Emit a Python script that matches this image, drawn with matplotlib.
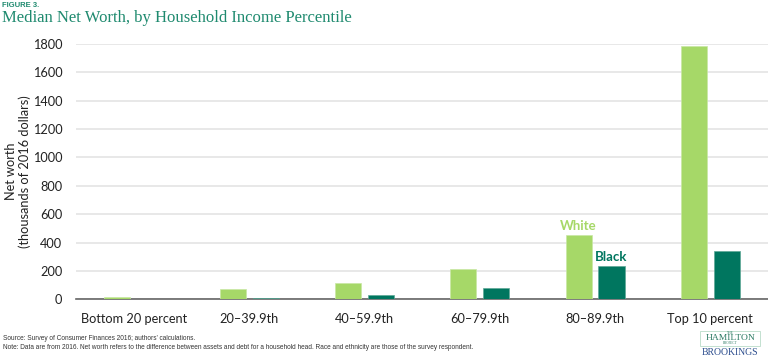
import matplotlib.pyplot as plt
import numpy as np
from matplotlib.patches import Rectangle

# data (thousands of 2016 dollars)
categories = ['Bottom 20 percent', '20\u201339.9th', '40\u201359.9th',
              '60\u201379.9th', '80\u201389.9th', 'Top 10 percent']
white = [14, 72, 113, 212, 453, 1787]
black = [2, 12, 28, 78, 237, 341]
y_ticks = [0, 200, 400, 600, 800, 1000, 1200, 1400, 1600, 1800]

light_green = '#a6d868'
dark_teal = '#00765f'
title_teal = '#1f8a6f'

plt.rcParams['font.family'] = ['Lato', 'DejaVu Sans']

fig = plt.figure(figsize=(7.68, 3.57), dpi=100)
ax = fig.add_axes([0.099, 0.1616, 0.901, 0.7152])

x = np.arange(len(categories))
w = 0.2255
off = 0.143
ax.bar(x - off, white, width=w, color=light_green, edgecolor='#c8e8a4', linewidth=0.5, zorder=5)
ax.bar(x + off, black, width=w, color=dark_teal, edgecolor='#5fa896', linewidth=0.5, zorder=5)

ax.set_xlim(-0.5, len(categories) - 0.5)
ax.set_ylim(0, 1800)
ax.set_yticks(y_ticks)
ax.set_xticks(x)
ax.set_xticklabels(categories, fontsize=9.2, color='#222222')
ax.tick_params(axis='y', labelsize=9.2, colors='#222222', length=0, pad=10)
ax.tick_params(axis='x', length=0, pad=10)
ax.grid(axis='y', color='#e2e2e2', linewidth=1.1, zorder=0)
for s in ['top', 'right', 'left']:
    ax.spines[s].set_visible(False)
ax.spines['bottom'].set_color('#666666')
ax.spines['bottom'].set_linewidth(1.2)
ax.spines['bottom'].set_zorder(4)

fig.text(0.024, 0.519, 'Net worth\n(thousands of 2016 dollars)', fontsize=9.2, color='#222222',
         rotation=90, ha='center', va='center', linespacing=1.15)

# series labels
ax.text(4 - off, white[4] + 22, 'White', ha='center', va='bottom', fontsize=9.5,
        fontweight='bold', color=light_green)
ax.text(4 + off, black[4] + 22, 'Black', ha='center', va='bottom', fontsize=9.5,
        fontweight='bold', color=dark_teal)

# titles
fig.text(0.003, 0.995, 'FIGURE 3.', fontsize=5.5, fontweight='bold', color=title_teal,
         va='top', ha='left', family=['Liberation Sans'])
fig.text(0.003, 0.95, 'Median Net Worth, by Household Income Percentile', fontsize=12,
         color=title_teal, va='center', ha='left', family=['Liberation Serif'])

# footnotes
fig.text(0.004, 0.051, "Source: Survey of Consumer Finances 2016; authors\u2019 calculations.",
         fontsize=4.7, color='#333333', va='center', family=['Liberation Sans'])
fig.text(0.004, 0.026, 'Note: Data are from 2016. Net worth refers to the difference between assets and debt '
         'for a household head. Race and ethnicity are those of the survey respondent.',
         fontsize=4.7, color='#333333', va='center', family=['Liberation Sans'])

# logo
fig.patches.append(Rectangle((0.912, 0.031), 0.078, 0.042, transform=fig.transFigure,
                             fill=False, edgecolor='#b9dcc9', linewidth=0.6))
fig.text(0.951, 0.067, 'THE', fontsize=2.5, color='#2c7a63', ha='center', va='center',
         family=['Liberation Serif'])
fig.text(0.951, 0.052, 'HAMILTON', fontsize=6.8, color='#2c7a63', ha='center', va='center',
         family=['Liberation Serif'])
fig.text(0.951, 0.038, 'PROJECT', fontsize=2.5, color='#2c7a63', ha='center', va='center',
         family=['Liberation Serif'])
fig.text(0.951, 0.012, 'BROOKINGS', fontsize=7, color='#2e4f8f', ha='center', va='center',
         family=['Liberation Serif'])

fig.savefig('out.png', dpi=100)
